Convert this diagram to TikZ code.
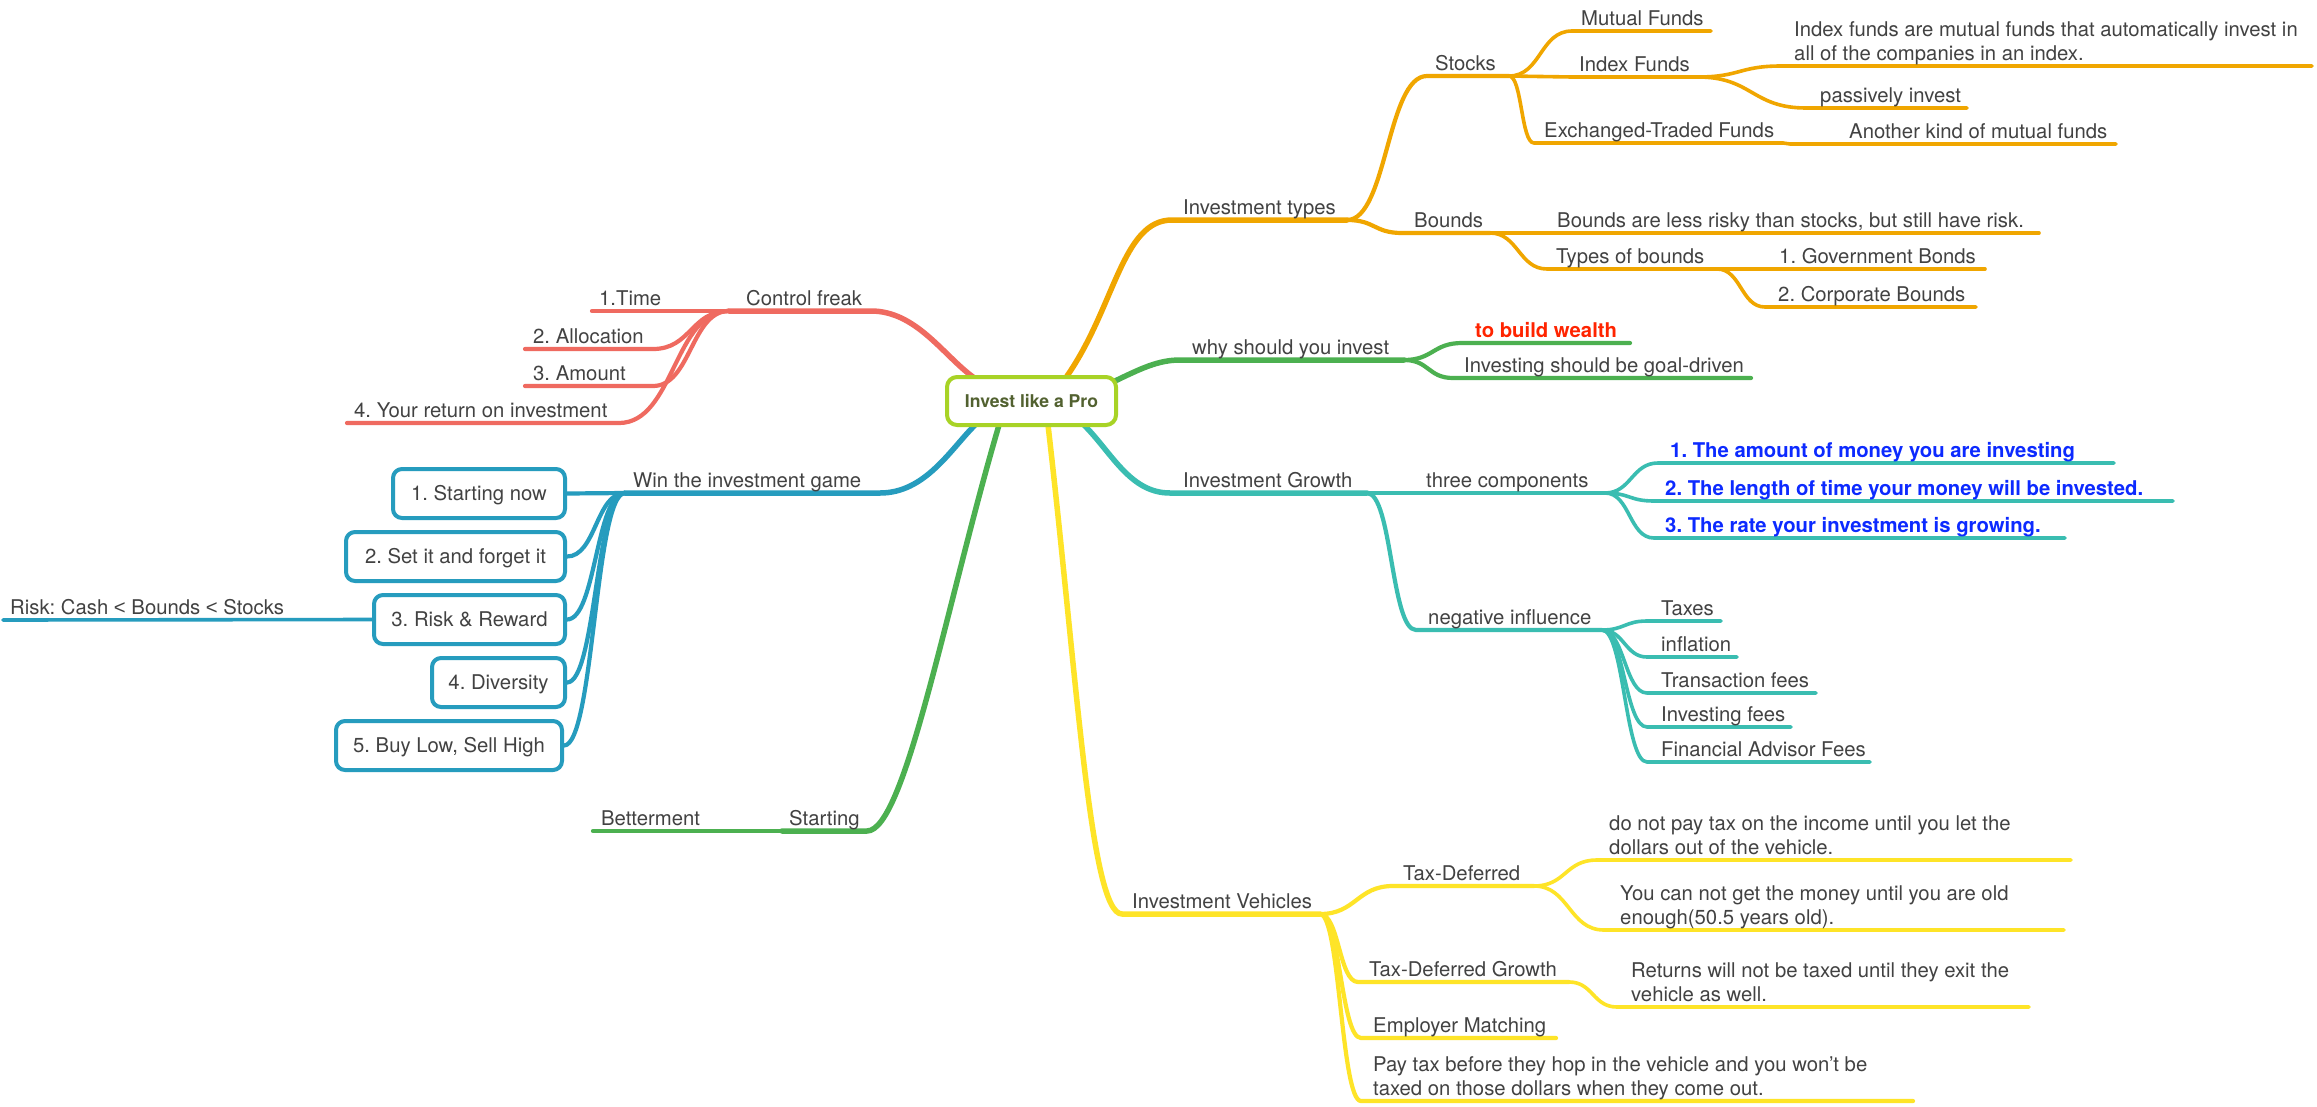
\documentclass[tikz,border=0pt]{standalone}
\usepackage{fontspec}
\setmainfont{TeX Gyre Heros}
\newfontfamily\lsans{Liberation Sans}
\frenchspacing
\definecolor{cOr}{RGB}{240,166,0}
\definecolor{cRd}{RGB}{239,106,96}
\definecolor{cBl}{RGB}{38,156,190}
\definecolor{cGr}{RGB}{76,176,80}
\definecolor{cTl}{RGB}{58,189,177}
\definecolor{cYl}{RGB}{254,228,40}
\definecolor{cCt}{RGB}{168,211,38}
\definecolor{cCtx}{RGB}{82,97,48}
\definecolor{txt}{RGB}{66,66,66}
\definecolor{redB}{RGB}{255,36,0}
\definecolor{bluB}{RGB}{12,42,255}
\newcommand\twol[2]{\begin{tabular}[b]{@{}l@{}}#1\\#2\end{tabular}}
\newcommand\lessgl{{\lsans <}}
\begin{document}
\frenchspacing
\begin{tikzpicture}[x=1pt,y=-1pt,line cap=round,line join=round,
  lv1/.style={line width=5.5pt},
  lv2/.style={line width=4.2pt},
  lv3/.style={line width=3.6pt},
  lbl/.style={anchor=base west,inner sep=0pt,text=txt,font=\fontsize{20.3}{24}\selectfont},
  lblR/.style={lbl,text=redB,font=\fontsize{20.3}{24}\selectfont\bfseries},
  lblB/.style={lbl,text=bluB,font=\fontsize{20.3}{24}\selectfont\bfseries},
  tbox/.style={draw=cBl,line width=4pt,rounded corners=9pt,fill=white,text=txt,inner sep=0pt,
    text height=14.6pt,text depth=0pt,minimum height=49pt,font=\fontsize{20.3}{24}\selectfont},
  ctrbox/.style={draw=cCt,line width=4pt,rounded corners=10pt,fill=white,text=cCtx,inner sep=0pt,
    minimum width=169pt,minimum height=48pt,text height=12.8pt,text depth=0pt,font=\fontsize{17.6}{22}\selectfont\bfseries}]
\fill[white] (0,0) rectangle (2317,1106);
\useasboundingbox (0,0) rectangle (2317,1106);

% ---------------- coordinates ----------------
% orange
\coordinate (cO) at (1067,376);
\coordinate (itS) at (1172,220); \coordinate (itE) at (1347,220);
\coordinate (stS) at (1427,76);  \coordinate (stE) at (1509,76);
\coordinate (boS) at (1402,233); \coordinate (boE) at (1490,233);
\coordinate (mfS) at (1572,31);  \coordinate (mfE) at (1711,31);
\coordinate (ifS) at (1572,77);  \coordinate (ifE) at (1698,77);
\coordinate (etS) at (1534,143); \coordinate (etE) at (1783,143);
\coordinate (fdS) at (1781,66);  \coordinate (fdE) at (2312,66);
\coordinate (piS) at (1806,108); \coordinate (piE) at (1967,108);
\coordinate (akS) at (1790,144); \coordinate (akE) at (2116,144);
\coordinate (blS) at (1496,233); \coordinate (blE) at (2039,233);
\coordinate (tbS) at (1547,269); \coordinate (tbE) at (1717,269);
\coordinate (gbS) at (1723,269); \coordinate (gbE) at (1985,269);
\coordinate (cbS) at (1765,307); \coordinate (cbE) at (1976,307);
% green (why)
\coordinate (cG) at (1115,381);
\coordinate (wsS) at (1180,360); \coordinate (wsE) at (1404,360);
\coordinate (twS) at (1462,343); \coordinate (twE) at (1630,343);
\coordinate (isS) at (1453,378); \coordinate (isE) at (1751,378);
% teal (growth)
\coordinate (cT) at (1084,425);
\coordinate (igS) at (1170,493); \coordinate (igE) at (1367,493);
\coordinate (tcS) at (1372,493); \coordinate (tcE) at (1605,493);
\coordinate (c1S) at (1658,463); \coordinate (c1E) at (2114,463);
\coordinate (c2S) at (1654,501); \coordinate (c2E) at (2173,501);
\coordinate (c3S) at (1654,538); \coordinate (c3E) at (2065,538);
\coordinate (niS) at (1416,630); \coordinate (niE) at (1602,630);
\coordinate (n1S) at (1647,621); \coordinate (n1E) at (1721,621);
\coordinate (n2S) at (1647,657); \coordinate (n2E) at (1737,657);
\coordinate (n3S) at (1647,693); \coordinate (n3E) at (1816,693);
\coordinate (n4S) at (1647,727); \coordinate (n4E) at (1791,727);
\coordinate (n5S) at (1647,762); \coordinate (n5E) at (1870,762);
% yellow
\coordinate (cY) at (1048,425);
\coordinate (ivS) at (1122,914); \coordinate (ivE) at (1320,914);
\coordinate (tdS) at (1393,886); \coordinate (tdE) at (1534,886);
\coordinate (dnS) at (1597,860); \coordinate (dnE) at (2071,860);
\coordinate (ycS) at (1604,930); \coordinate (ycE) at (2064,930);
\coordinate (tgS) at (1358,982); \coordinate (tgE) at (1569,982);
\coordinate (rwS) at (1617,1007); \coordinate (rwE) at (2029,1007);
\coordinate (emS) at (1361,1038); \coordinate (emE) at (1556,1038);
\coordinate (ptS) at (1361,1101); \coordinate (ptE) at (1913,1101);
% red
\coordinate (cR) at (973,377);
\coordinate (cfS) at (729,311); \coordinate (cfE) at (871,311);
\coordinate (t1S) at (592,311);
\coordinate (alS) at (525,349); \coordinate (alE) at (653,349);
\coordinate (amS) at (525,386); \coordinate (amE) at (653,386);
\coordinate (yrS) at (347,423); \coordinate (yrE) at (619,423);
% blue
\coordinate (cB) at (975,425);
\coordinate (wiS) at (625,493); \coordinate (wiE) at (880,493);
\coordinate (rkS) at (3,620);
% green (starting)
\coordinate (cS) at (999,425);
\coordinate (sgS) at (782,831); \coordinate (sgE) at (867,831);
\coordinate (btS) at (593,831);

% ---------------- orange branch ----------------
\begin{scope}[cOr]
\draw[lv1] (cO) .. controls +(48,-69) and +(-50,0) .. (itS) -- (itE);
\draw[lv2] (itE) .. controls +(40,0) and +(-40,0) .. (stS) -- (stE);
\draw[lv2] (itE) .. controls +(28,0) and +(-28,0) .. (boS) -- (boE);
\draw[lv3] (stE) .. controls +(32,0) and +(-32,0) .. (mfS) -- (mfE);
\draw[lv3] (stE) .. controls +(32,0) and +(-32,0) .. (ifS) -- (ifE);
\draw[lv3] (stE) .. controls +(13,0) and +(-13,0) .. (etS) -- (etE);
\draw[lv3] (ifE) .. controls +(42,0) and +(-42,0) .. (fdS) -- (fdE);
\draw[lv3] (ifE) .. controls +(54,0) and +(-54,0) .. (piS) -- (piE);
\draw[lv3] (etE) -- (akS) -- (akE);
\draw[lv3] (boE) -- (blS) -- (blE);
\draw[lv3] (boE) .. controls +(28,0) and +(-28,0) .. (tbS) -- (tbE);
\draw[lv3] (tbE) -- (gbS) -- (gbE);
\draw[lv3] (tbE) .. controls +(24,0) and +(-24,0) .. (cbS) -- (cbE);
\end{scope}

% ---------------- green (why) ----------------
\begin{scope}[cGr]
\draw[lv1] (cG) .. controls +(25,-12) and +(-22,0) .. (wsS) -- (wsE);
\draw[lv2] (wsE) .. controls +(29,0) and +(-29,0) .. (twS) -- (twE);
\draw[lv2] (wsE) .. controls +(25,0) and +(-25,0) .. (isS) -- (isE);
\end{scope}

% ---------------- teal (growth) ----------------
\begin{scope}[cTl]
\draw[lv1] (cT) .. controls +(28,28) and +(-40,0) .. (igS) -- (igE);
\draw[lv2] (igE) -- (tcS) -- (tcE);
\draw[lv2] (igE) .. controls +(25,0) and +(-25,0) .. (niS) -- (niE);
\draw[lv3] (tcE) .. controls +(26,0) and +(-26,0) .. (c1S) -- (c1E);
\draw[lv3] (tcE) .. controls +(25,0) and +(-25,0) .. (c2S) -- (c2E);
\draw[lv3] (tcE) .. controls +(25,0) and +(-25,0) .. (c3S) -- (c3E);
\draw[lv3] (niE) .. controls +(22,0) and +(-22,0) .. (n1S) -- (n1E);
\draw[lv3] (niE) .. controls +(22,0) and +(-22,0) .. (n2S) -- (n2E);
\draw[lv3] (niE) .. controls +(22,0) and +(-22,0) .. (n3S) -- (n3E);
\draw[lv3] (niE) .. controls +(22,0) and +(-22,0) .. (n4S) -- (n4E);
\draw[lv3] (niE) .. controls +(22,0) and +(-22,0) .. (n5S) -- (n5E);
\end{scope}

% ---------------- yellow (vehicles) ----------------
\begin{scope}[cYl]
\draw[lv1] (cY) .. controls +(29,250) and +(-32,0) .. (ivS) -- (ivE);
\draw[lv2] (ivE) .. controls +(36,0) and +(-36,0) .. (tdS) -- (tdE);
\draw[lv2] (ivE) .. controls +(19,0) and +(-19,0) .. (tgS) -- (tgE);
\draw[lv2] (ivE) .. controls +(20,0) and +(-20,0) .. (emS) -- (emE);
\draw[lv2] (ivE) .. controls +(20,0) and +(-20,0) .. (ptS) -- (ptE);
\draw[lv3] (tdE) .. controls +(32,0) and +(-32,0) .. (dnS) -- (dnE);
\draw[lv3] (tdE) .. controls +(35,0) and +(-35,0) .. (ycS) -- (ycE);
\draw[lv3] (tgE) .. controls +(24,0) and +(-24,0) .. (rwS) -- (rwE);
\end{scope}

% ---------------- red (control freak) ----------------
\begin{scope}[cRd]
\draw[lv1] (cR) .. controls +(-30,-22) and +(45,0) .. (cfE) -- (cfS);
\draw[lv2] (cfS) -- (t1S);
\draw[lv2] (cfS) .. controls +(-38,0) and +(38,0) .. (alE) -- (alS);
\draw[lv2] (cfS) .. controls +(-38,0) and +(38,0) .. (amE) -- (amS);
\draw[lv2] (cfS) .. controls +(-55,0) and +(55,0) .. (yrE) -- (yrS);
\end{scope}

% ---------------- blue (win) ----------------
\node[tbox,minimum width=172pt] (b1) at (479,493.5) {1. Starting now};
\node[tbox,minimum width=219pt] (b2) at (455.5,556.5) {2. Set it and forget it};
\node[tbox,minimum width=191pt] (b3) at (469.5,619.5) {3. Risk \& Reward};
\node[tbox,minimum width=133pt] (b4) at (498.5,682.5) {4. Diversity};
\node[tbox,minimum width=226pt] (b5) at (449,745.5) {5. Buy Low, Sell High};
\begin{scope}[cBl]
\draw[lv1] (cB) .. controls +(-25,25) and +(45,0) .. (wiE) -- (wiS);
\draw[lv2] (wiS) .. controls +(-29,0) and +(29,0) .. (b1.east);
\draw[lv2] (wiS) .. controls +(-29,0) and +(29,0) .. (b2.east);
\draw[lv2] (wiS) .. controls +(-29,0) and +(29,0) .. (b3.east);
\draw[lv2] (wiS) .. controls +(-29,0) and +(29,0) .. (b4.east);
\draw[lv2] (wiS) .. controls +(-30,0) and +(30,0) .. (b5.east);
\draw[lv3] (b3.west) -- (rkS);
\end{scope}

% ---------------- green (starting) ----------------
\begin{scope}[cGr]
\draw[lv1] (cS) .. controls +(-53,180) and +(38,0) .. (sgE) -- (sgS);
\draw[lv2] (sgS) -- (btS);
\end{scope}

% ---------------- centre ----------------
\node[ctrbox] (ctr) at (1031.5,401) {Invest like a Pro};

% ---------------- labels ----------------
\node[lbl] (nIT) at (1183,214) {Investment types};
\node[lbl] (nST) at (1435,70) {Stocks};
\node[lbl] (nBO) at (1414,227) {Bounds};
\node[lbl] (nMF) at (1581,25) {Mutual Funds};
\node[lbl] (nIF) at (1579,71) {Index Funds};
\node[lbl] (nET) at (1544,137) {Exchanged-Traded Funds};
\node[lbl] (nFD) at (1794,60) {\twol{Index funds are mutual funds that automatically invest in}{all of the companies in an index.}};
\node[lbl] (nPI) at (1820,102) {passively invest};
\node[lbl] (nAK) at (1849,138) {Another kind of mutual funds};
\node[lbl] (nBL) at (1557,227) {Bounds are less risky than stocks, but still have risk.};
\node[lbl] (nTB) at (1556,263) {Types of bounds};
\node[lbl] (nGB) at (1779,263) {1. Government Bonds};
\node[lbl] (nCB) at (1778,301) {2. Corporate Bounds};

\node[lbl] (nWS) at (1192,354) {why should you invest};
\node[lblR] (nTW) at (1475,337) {to build wealth};
\node[lbl] (nIS) at (1464,372) {Investing should be goal-driven};

\node[lbl] (nIG) at (1183,487) {Investment Growth};
\node[lbl] (nTC) at (1426,487) {three components};
\node[lblB] (nC1) at (1670,457) {1. The amount of money you are investing};
\node[lblB] (nC2) at (1665,495) {2. The length of time your money will be invested.};
\node[lblB] (nC3) at (1665,532) {3. The rate your investment is growing.};
\node[lbl] (nNI) at (1428,624) {negative influence};
\node[lbl] (nN1) at (1661,615) {Taxes};
\node[lbl] (nN2) at (1661,651) {inflation};
\node[lbl] (nN3) at (1661,687) {Transaction fees};
\node[lbl] (nN4) at (1661,721) {Investing fees};
\node[lbl] (nN5) at (1661,756) {Financial Advisor Fees};

\node[lbl] (nIV) at (1132,908) {Investment Vehicles};
\node[lbl] (nTD) at (1403,880) {Tax-Deferred};
\node[lbl] (nDN) at (1609,854) {\twol{do not pay tax on the income until you let the}{dollars out of the vehicle.}};
\node[lbl] (nYC) at (1620,924) {\twol{You can not get the money until you are old}{enough(50.5 years old).}};
\node[lbl] (nTG) at (1369,976) {Tax-Deferred Growth};
\node[lbl] (nRW) at (1631,1001) {\twol{Returns will not be taxed until they exit the}{vehicle as well.}};
\node[lbl] (nEM) at (1373,1032) {Employer Matching};
\node[lbl] (nPT) at (1373,1095) {\twol{Pay tax before they hop in the vehicle and you won’t be}{taxed on those dollars when they come out.}};

\node[lbl] (nCF) at (746,305) {Control freak};
\node[lbl] (nT1) at (599,305) {1.Time};
\node[lbl] (nAL) at (533,343) {2. Allocation};
\node[lbl] (nAM) at (533,380) {3. Amount};
\node[lbl] (nYR) at (354,417) {4. Your return on investment};

\node[lbl] (nWI) at (633,487) {Win the investment game};
\node[lbl] (nRK) at (10,614) {Risk: Cash \lessgl{} Bounds \lessgl{} Stocks};

\node[lbl] (nSG) at (789,825) {Starting};
\node[lbl] (nBT) at (601,825) {Betterment};
\end{tikzpicture}
\end{document}
